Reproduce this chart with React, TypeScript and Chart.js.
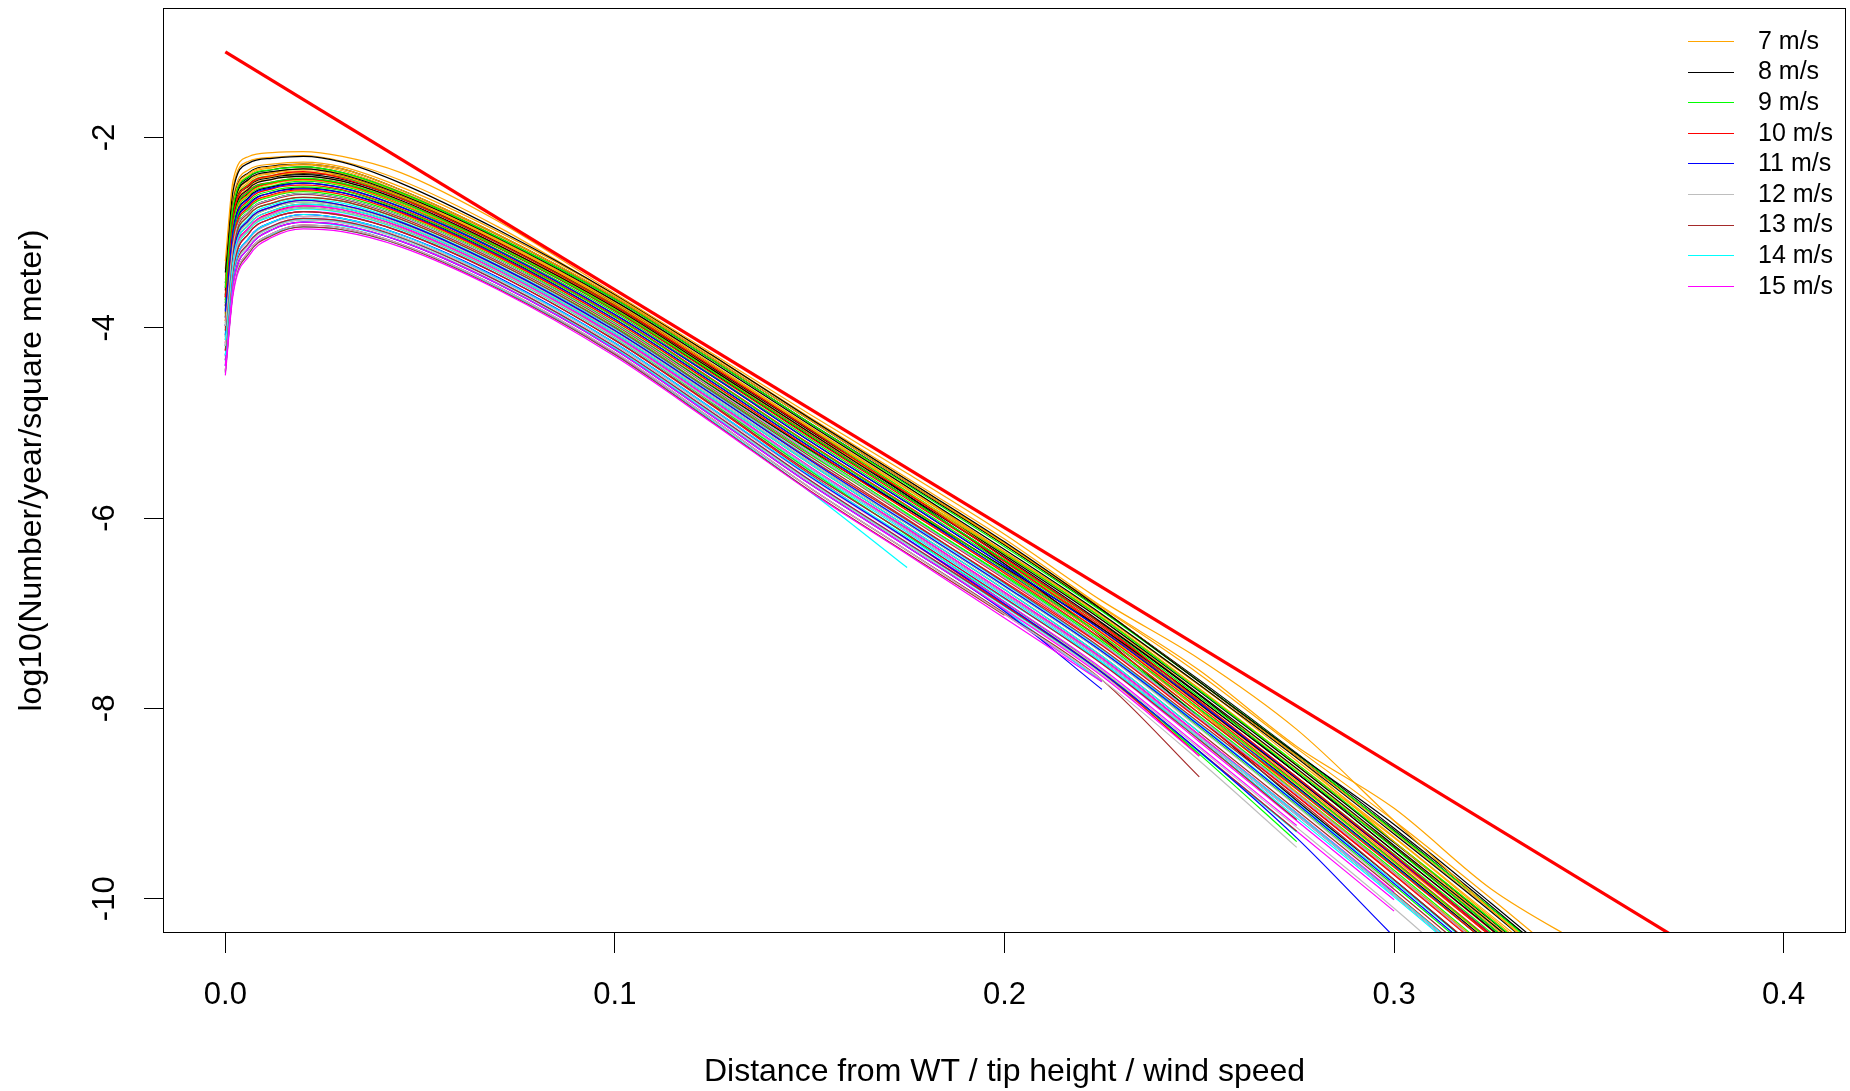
import { useEffect, useRef } from "react";
import { Chart, registerables } from "chart.js";

Chart.register(...registerables);

// Distance from WT / tip height / wind speed (shared sampling positions)
const DIST = [0, 0.002, 0.006, 0.012, 0.02, 0.03, 0.045, 0.07, 0.1, 0.125, 0.15, 0.175, 0.2, 0.225, 0.25, 0.275, 0.3, 0.325, 0.35];

// log10(Number/year/square meter) curves, one list of curves per wind speed
const WS7 = [
  [-3.30, -2.45, -2.20, -2.16, -2.15, -2.20, -2.37, -2.88, -3.64, -4.27, -4.91, -5.53, -6.17, -6.87, -7.48, -8.22, -9.18, -10.12, -11.0],
  [-3.38, -2.52, -2.25, -2.21, -2.19, -2.25, -2.45, -2.94, -3.66, -4.29, -4.94, -5.58, -6.22, -6.93, -7.60, -8.40, -9.05, -9.90, -10.52],
  [-3.55, -2.70, -2.38, -2.31, -2.28, -2.33, -2.55, -3.02, -3.68, -4.32, -4.97, -5.62, -6.27, -6.96, -7.72, -8.50, -9.30, -10.12, -10.95],
  [-3.68, -2.83, -2.50, -2.41, -2.37, -2.41, -2.62, -3.09, -3.75, -4.40, -5.05, -5.70, -6.35, -7.02, -7.76, -8.52, -9.40, -10.25, -11.10],
  [-3.78, -2.93, -2.60, -2.49, -2.45, -2.50, -2.70, -3.15, -3.80, -4.45, -5.10, -5.73, -6.36, -7.02, -7.75, -8.55, -9.35, -10.18, -11.0],
  [-3.93, -3.08, -2.73, -2.61, -2.56, -2.60, -2.80, -3.26, -3.93, -4.59, -5.27, -5.92, -6.57, -7.24, -8.02, -8.80, -9.62, -10.46, -11.3],
  [-3.60, -2.76, -2.45, -2.37, -2.33, -2.38, -2.59, -3.07, -3.73, -4.38, -5.04, -5.72, -6.42, -7.18, -8.02, -8.88, -9.72, -10.56, -11.4],
  [-3.50, -2.64, -2.34, -2.28, -2.26, -2.31, -2.52, -2.99, -3.66, -4.30, -4.95, -5.60, -6.26, -6.94, -7.64, -8.42, -9.18, -10.0, -10.85],
  [-3.64, -2.79, -2.47, -2.38, -2.35, -2.40, -2.61, -3.08, -3.74, -4.39, -5.04, -5.69, -6.36, -7.05, -7.79, -8.58, -9.36, -10.2, -11.05],
  [-3.72, -2.86, -2.53, -2.44, -2.41, -2.46, -2.67, -3.13, -3.78, -4.43, -5.10, -5.74, -6.38, -7.04, -7.80, -8.60, -9.40, -10.22, -11.1],
  [-3.85, -3.00, -2.66, -2.54, -2.50, -2.55, -2.75, -3.21, -3.88, -4.54, -5.22, -5.87, -6.53, -7.20, -7.96, -8.76, -9.58, -10.4, -11.3],
  [-3.56, -2.71, -2.40, -2.32, -2.29, -2.35, -2.57, -3.03, -3.69, -4.34, -5.00, -5.67, -6.36, -7.07, -7.85, -8.64, -9.45, -10.28, -11.1],
];
const WS8 = [
  [-3.42, -2.56, -2.27, -2.22, -2.20, -2.26, -2.48, -2.97, -3.65, -4.29, -4.95, -5.60, -6.25, -6.96, -7.72, -8.48, -9.22, -10.05, -10.9],
  [-3.61, -2.76, -2.44, -2.36, -2.33, -2.39, -2.60, -3.06, -3.72, -4.36, -5.02, -5.67, -6.33, -7.01, -7.75, -8.52, -9.32, -10.14, -11.0],
  [-3.71, -2.86, -2.54, -2.44, -2.41, -2.46, -2.66, -3.13, -3.79, -4.44, -5.10, -5.76, -6.41, -7.10, -7.85, -8.63, -9.44, -10.26, -11.12],
  [-3.82, -2.97, -2.63, -2.52, -2.48, -2.53, -2.73, -3.19, -3.86, -4.51, -5.19, -5.84, -6.50, -7.18, -7.95, -8.74, -9.55, -10.38, -11.25],
  [-3.98, -3.13, -2.78, -2.65, -2.59, -2.64, -2.83, -3.29, -3.96, -4.62, -5.28, -5.90, -6.52, -7.16, -7.90, -8.68, -9.50, -10.32, -11.2],
  [-3.66, -2.80, -2.50, -2.41, -2.38, -2.41, -2.62, -3.10, -3.75, -4.40, -5.07, -5.76, -6.48, -7.25, -8.10, -8.97, -9.80, -10.66, -11.5],
  [-3.53, -2.68, -2.37, -2.30, -2.28, -2.33, -2.55, -3.02, -3.68, -4.32, -4.97, -5.62, -6.28, -6.97, -7.70, -8.47, -9.26, -10.08, -10.95],
  [-3.68, -2.82, -2.51, -2.42, -2.39, -2.44, -2.64, -3.11, -3.77, -4.42, -5.08, -5.74, -6.39, -7.07, -7.82, -8.60, -9.41, -10.23, -11.1],
  [-3.77, -2.92, -2.58, -2.48, -2.44, -2.49, -2.70, -3.16, -3.82, -4.47, -5.14, -5.78, -6.44, -7.11, -7.86, -8.68, -9.46, -10.3, -11.15],
  [-3.89, -3.04, -2.70, -2.58, -2.53, -2.58, -2.77, -3.23, -3.91, -4.57, -5.25, -5.90, -6.56, -7.24, -8.01, -8.82, -9.64, -10.48, -11.35],
  [-3.58, -2.73, -2.42, -2.34, -2.31, -2.37, -2.58, -3.05, -3.70, -4.34, -5.00, -5.64, -6.28, -6.96, -7.72, -8.50, -9.28, -10.1, -10.9],
];
const WS9 = [
  [-3.58, -2.73, -2.41, -2.34, -2.31, -2.37, -2.58, -3.05, -3.70, -4.34, -5.00, -5.65, -6.30, -6.98, -7.72, -8.48, -9.29, -10.10, -10.96],
  [-3.74, -2.89, -2.57, -2.47, -2.43, -2.48, -2.68, -3.15, -3.81, -4.46, -5.13, -5.78, -6.44, -7.12, -7.88, -8.66, -9.47, -10.30, -11.16],
  [-3.87, -3.02, -2.68, -2.56, -2.52, -2.56, -2.76, -3.22, -3.89, -4.55, -5.23, -5.88, -6.54, -7.23, -8.00, -8.79, -9.61, -10.45, -11.3],
  [-4.03, -3.18, -2.82, -2.69, -2.63, -2.67, -2.86, -3.32, -3.99, -4.66, -5.33, -5.96, -6.60, -7.28, -8.05, -8.84, -9.66, -10.50, -11.36],
  [-4.19, -3.34, -2.97, -2.81, -2.74, -2.78, -2.96, -3.41, -4.10, -4.79, -5.50, -6.18, -6.88, -7.60, -8.48, -9.40, null, null, null],
  [-3.66, -2.81, -2.49, -2.40, -2.37, -2.42, -2.63, -3.10, -3.76, -4.40, -5.06, -5.72, -6.37, -7.05, -7.81, -8.58, -9.40, -10.22, -11.07],
  [-3.80, -2.95, -2.61, -2.51, -2.46, -2.51, -2.71, -3.18, -3.84, -4.50, -5.17, -5.82, -6.48, -7.16, -7.93, -8.72, -9.53, -10.36, -11.23],
  [-3.95, -3.10, -2.75, -2.62, -2.57, -2.62, -2.81, -3.27, -3.95, -4.61, -5.29, -5.95, -6.61, -7.30, -8.08, -8.88, -9.70, -10.55, -11.42],
  [-4.10, -3.25, -2.89, -2.74, -2.68, -2.72, -2.90, -3.36, -4.04, -4.72, -5.41, -6.06, -6.72, -7.41, -8.20, -9.02, -9.86, -10.72, -11.6],
];
const WS10 = [
  [-3.68, -2.83, -2.50, -2.40, -2.36, -2.43, -2.64, -3.11, -3.77, -4.41, -5.07, -5.74, -6.42, -7.12, -7.92, -8.72, -9.54, -10.38, -11.24],
  [-3.93, -3.08, -2.73, -2.60, -2.55, -2.60, -2.79, -3.25, -3.93, -4.59, -5.27, -5.92, -6.58, -7.27, -8.05, -8.85, -9.67, -10.50, -11.38],
  [-4.08, -3.23, -2.87, -2.73, -2.66, -2.71, -2.89, -3.35, -4.03, -4.70, -5.38, -6.02, -6.67, -7.34, -8.12, -8.92, -9.74, -10.58, -11.45],
  [-4.24, -3.39, -3.01, -2.85, -2.78, -2.82, -2.99, -3.44, -4.13, -4.82, -5.54, -6.22, -6.91, -7.62, -8.50, null, null, null, null],
  [-3.77, -2.92, -2.59, -2.48, -2.44, -2.49, -2.70, -3.16, -3.82, -4.48, -5.15, -5.80, -6.46, -7.16, -7.94, -8.74, -9.56, -10.40, -11.26],
  [-3.85, -3.00, -2.66, -2.54, -2.50, -2.55, -2.75, -3.21, -3.88, -4.54, -5.22, -5.87, -6.53, -7.21, -7.98, -8.78, -9.60, -10.44, -11.3],
  [-4.00, -3.15, -2.79, -2.66, -2.60, -2.65, -2.84, -3.30, -3.97, -4.64, -5.32, -5.98, -6.64, -7.33, -8.11, -8.92, -9.75, -10.6, -11.47],
  [-4.16, -3.31, -2.95, -2.79, -2.72, -2.76, -2.94, -3.40, -4.08, -4.76, -5.46, -6.11, -6.78, -7.47, -8.28, -9.10, -9.94, -10.8, -11.7],
  [-3.74, -2.89, -2.56, -2.47, -2.43, -2.48, -2.68, -3.14, -3.80, -4.46, -5.12, -5.78, -6.45, -7.14, -7.90, -8.68, -9.50, -10.33, -11.2],
];
const WS11 = [
  [-3.83, -2.98, -2.64, -2.53, -2.48, -2.53, -2.73, -3.19, -3.86, -4.51, -5.19, -5.84, -6.50, -7.18, -7.94, -8.73, -9.55, -10.38, -11.25],
  [-4.08, -3.23, -2.87, -2.73, -2.66, -2.71, -2.89, -3.35, -4.03, -4.70, -5.39, -6.05, -6.71, -7.40, -8.18, -9.00, -9.84, -10.70, -11.55],
  [-4.29, -3.44, -3.06, -2.89, -2.81, -2.85, -3.02, -3.47, -4.16, -4.85, -5.56, -6.22, -6.90, -7.62, -8.45, -9.36, -10.40, -11.40, null],
  [-4.40, -3.55, -3.16, -2.97, -2.89, -2.92, -3.09, -3.54, -4.23, -4.93, -5.64, -6.30, -6.98, -7.80, null, null, null, null, null],
  [-3.98, -3.13, -2.78, -2.65, -2.59, -2.64, -2.83, -3.29, -3.96, -4.63, -5.31, -5.97, -6.63, -7.32, -8.10, -8.90, -9.73, -10.58, -11.45],
  [-4.19, -3.34, -2.97, -2.81, -2.74, -2.78, -2.96, -3.41, -4.10, -4.78, -5.47, -6.13, -6.80, -7.49, -8.30, -9.12, -9.96, -10.83, -11.71],
  [-3.90, -3.05, -2.71, -2.58, -2.54, -2.58, -2.78, -3.24, -3.91, -4.57, -5.25, -5.90, -6.56, -7.24, -8.02, -8.83, -9.65, -10.5, -11.36],
];
const WS12 = [
  [-3.98, -3.13, -2.78, -2.65, -2.59, -2.64, -2.83, -3.29, -3.96, -4.63, -5.31, -5.97, -6.63, -7.32, -8.10, -8.90, -9.73, -10.58, -11.45],
  [-4.19, -3.34, -2.97, -2.81, -2.74, -2.78, -2.96, -3.41, -4.10, -4.78, -5.47, -6.13, -6.80, -7.49, -8.30, -9.12, -9.96, -10.83, -11.71],
  [-4.45, -3.60, -3.20, -3.01, -2.92, -2.95, -3.12, -3.57, -4.26, -4.96, -5.68, -6.34, -7.01, -7.70, -8.55, -9.46, null, null, null],
  [-4.31, -3.46, -3.08, -2.90, -2.83, -2.86, -3.04, -3.49, -4.18, -4.87, -5.57, -6.23, -6.90, -7.60, -8.42, -9.25, -10.10, -11.0, -11.9],
  [-4.10, -3.25, -2.89, -2.74, -2.68, -2.72, -2.90, -3.36, -4.04, -4.72, -5.41, -6.06, -6.72, -7.41, -8.21, -9.03, -9.88, null, null],
  [-4.37, -3.52, -3.13, -2.95, -2.87, -2.90, -3.07, -3.53, -4.22, -4.91, -5.62, -6.28, -6.95, -7.64, -8.48, null, null, null, null],
];
const WS13 = [
  [-4.03, -3.18, -2.82, -2.69, -2.63, -2.67, -2.86, -3.32, -4.00, -4.67, -5.35, -6.01, -6.68, -7.37, -8.15, -8.95, -9.80, -10.65, -11.5],
  [-4.24, -3.39, -3.01, -2.85, -2.78, -2.82, -2.99, -3.44, -4.13, -4.81, -5.52, -6.17, -6.84, -7.53, -8.33, -9.17, null, null, null],
  [-4.47, -3.62, -3.22, -3.03, -2.94, -2.97, -3.13, -3.59, -4.28, -4.99, -5.71, -6.37, -7.02, null, null, null, null, null, null],
  [-4.45, -3.60, -3.20, -3.01, -2.92, -2.95, -3.12, -3.57, -4.26, -4.96, -5.68, -6.34, -7.00, -7.70, -8.72, null, null, null, null],
  [-4.13, -3.28, -2.92, -2.77, -2.70, -2.74, -2.92, -3.38, -4.06, -4.74, -5.43, -6.09, -6.75, -7.45, -8.25, -9.07, -9.90, -10.76, -11.65],
  [-4.34, -3.49, -3.11, -2.93, -2.85, -2.88, -3.05, -3.51, -4.20, -4.89, -5.60, -6.26, -6.92, -7.62, -8.45, -9.29, null, null, null],
];
const WS14 = [
  [-4.13, -3.28, -2.92, -2.77, -2.70, -2.74, -2.92, -3.38, -4.06, -4.74, -5.43, -6.09, -6.75, -7.45, -8.25, null, null, null, null],
  [-4.29, -3.44, -3.06, -2.89, -2.81, -2.85, -3.02, -3.48, -4.16, -4.85, -5.55, -6.20, -6.85, -7.52, -8.30, -9.10, -9.95, -10.80, -11.7],
  [-4.47, -3.62, -3.22, -3.02, -2.94, -2.97, -3.13, -3.58, -4.28, -4.98, -5.72, -6.52, null, null, null, null, null, null, null],
  [-4.40, -3.55, -3.16, -2.97, -2.89, -2.93, -3.09, -3.54, -4.22, -4.92, -5.64, -6.30, -6.97, -7.72, null, null, null, null, null],
  [-4.21, -3.36, -2.98, -2.83, -2.75, -2.79, -2.97, -3.42, -4.11, -4.79, -5.49, -6.15, -6.82, -7.51, -8.32, -9.15, -9.98, -10.85, -11.75],
  [-4.35, -3.50, -3.12, -2.94, -2.86, -2.89, -3.06, -3.51, -4.21, -4.90, -5.61, -6.27, -6.93, -7.63, -8.46, -9.30, null, null, null],
  [-4.06, -3.21, -2.85, -2.71, -2.65, -2.69, -2.88, -3.34, -4.01, -4.68, -5.37, -6.03, -6.69, -7.38, -8.17, -8.99, -9.82, -10.67, -11.55],
];
const WS15 = [
  [-4.50, -3.65, -3.25, -3.05, -2.96, -2.99, -3.15, -3.60, -4.30, -5.00, -5.72, -6.38, -7.05, -7.72, null, null, null, null, null],
  [-4.40, -3.55, -3.16, -2.97, -2.89, -2.92, -3.09, -3.54, -4.23, -4.93, -5.64, -6.30, -6.96, -7.66, -8.50, null, null, null, null],
  [-4.30, -3.45, -3.06, -2.89, -2.81, -2.85, -3.02, -3.48, -4.16, -4.85, -5.56, -6.22, -6.88, -7.58, -8.40, -9.23, null, null, null],
  [-4.17, -3.32, -2.95, -2.80, -2.72, -2.76, -2.94, -3.40, -4.08, -4.76, -5.46, -6.11, -6.78, -7.47, -8.28, -9.10, -9.93, null, null],
  [-4.45, -3.60, -3.20, -3.01, -2.92, -2.95, -3.12, -3.57, -4.27, -4.96, -5.68, -6.34, -7.01, -7.71, null, null, null, null, null],
  [-4.34, -3.49, -3.11, -2.93, -2.85, -2.88, -3.05, -3.51, -4.20, -4.89, -5.60, -6.26, -6.92, -7.62, -8.45, -9.29, -10.13, null, null],
  [-4.24, -3.39, -3.01, -2.85, -2.78, -2.81, -2.99, -3.44, -4.13, -4.81, -5.52, -6.17, -6.84, -7.53, -8.35, -9.18, -10.01, null, null],
];

const SPEED_CURVES = [WS7, WS8, WS9, WS10, WS11, WS12, WS13, WS14, WS15];
const SPEED_LABELS = ["7 m/s", "8 m/s", "9 m/s", "10 m/s", "11 m/s", "12 m/s", "13 m/s", "14 m/s", "15 m/s"];
const SPEED_COLORS = ["#FFA500", "#000000", "#00FF00", "#FF0000", "#0000FF", "#BEBEBE", "#A52A2A", "#00FFFF", "#FF00FF"];

// Straight reference line (red)
const REF_X = [0, 0.4];
const REF_Y = [-1.1, -11.1];

const X_TICKS = [0, 0.1, 0.2, 0.3, 0.4];
const Y_TICKS = [-10, -8, -6, -4, -2];
const X_LIMITS = [-0.016, 0.416];
const Y_LIMITS = [-10.36, -0.64];

const FONT = '"Liberation Sans", Arial, Helvetica, sans-serif';

const rFrame = {
  id: "rFrame",
  afterDatasetsDraw(chart: any) {
    const { ctx, chartArea: a } = chart;
    ctx.save();
    ctx.strokeStyle = "#000";
    ctx.lineWidth = 1;
    const l = Math.round(a.left) + 0.5;
    const t = Math.round(a.top) + 0.5;
    const r = Math.round(a.right) - 0.5;
    const b = Math.round(a.bottom) - 0.5;
    ctx.strokeRect(l, t, r - l, b - t);
    // legend (no box)
    ctx.font = `25px ${FONT}`;
    ctx.textBaseline = "middle";
    ctx.textAlign = "left";
    SPEED_LABELS.forEach((lab, i) => {
      const y = 41 + i * 30.6;
      ctx.strokeStyle = SPEED_COLORS[i];
      ctx.lineWidth = 1;
      ctx.beginPath();
      ctx.moveTo(1688, Math.round(y) + 0.5);
      ctx.lineTo(1734, Math.round(y) + 0.5);
      ctx.stroke();
      ctx.fillStyle = "#000";
      ctx.fillText(lab, 1758, y + 1);
    });
    ctx.restore();
  },
};

export default function App() {
  const ref = useRef<HTMLCanvasElement | null>(null);
  useEffect(() => {
    if (!ref.current) return;
    const datasets: any[] = [];
    datasets.push({
      label: "reference",
      data: REF_X.map((x, i) => ({ x, y: REF_Y[i] })),
      borderColor: "#FF0000",
      borderWidth: 3.2,
      pointRadius: 0,
      tension: 0,
    });
    const maxN = Math.max(...SPEED_CURVES.map((c) => c.length));
    for (let k = 0; k < maxN; k++) {
      SPEED_CURVES.forEach((curves, s) => {
        const curve = curves[k];
        if (!curve) return;
        datasets.push({
          label: SPEED_LABELS[s],
          data: DIST.map((x, i) => ({ x, y: curve[i] })).filter((p) => p.y !== null),
          borderColor: SPEED_COLORS[s],
          borderWidth: 1.2,
          pointRadius: 0,
          cubicInterpolationMode: "monotone",
        });
      });
    }
    const chart = new Chart(ref.current, {
      type: "line",
      data: { datasets },
      plugins: [rFrame],
      options: {
        animation: false,
        responsive: false,
        devicePixelRatio: 1,
        layout: { padding: { top: 8, right: 4, left: 0, bottom: 0 } },
        plugins: { legend: { display: false }, tooltip: { enabled: false } },
        scales: {
          x: {
            type: "linear",
            min: X_LIMITS[0],
            max: X_LIMITS[1],
            afterBuildTicks: (scale: any) => {
              scale.ticks = X_TICKS.map((v) => ({ value: v }));
            },
            afterFit: (scale: any) => {
              scale.height = 158;
              scale.paddingLeft = 0;
              scale.paddingRight = 0;
            },
            border: { display: false },
            grid: { display: true, drawOnChartArea: false, drawTicks: true, tickLength: 20, color: "#000", lineWidth: 1 },
            ticks: {
              color: "#000",
              font: { family: FONT, size: 31 },
              padding: 24,
              maxRotation: 0,
              minRotation: 0,
              callback: (v: any) => Number(v).toFixed(1),
            },
            title: {
              display: true,
              text: "Distance from WT / tip height / wind speed",
              color: "#000",
              font: { family: FONT, size: 32 },
              padding: { top: 0, bottom: 0 },
            },
          },
          y: {
            type: "linear",
            min: Y_LIMITS[0],
            max: Y_LIMITS[1],
            afterBuildTicks: (scale: any) => {
              scale.ticks = Y_TICKS.map((v) => ({ value: v }));
            },
            afterFit: (scale: any) => {
              scale.width = 163;
              scale.paddingTop = 0;
              scale.paddingBottom = 0;
            },
            border: { display: false },
            grid: { display: true, drawOnChartArea: false, drawTicks: true, tickLength: 19, color: "#000", lineWidth: 1 },
            ticks: {
              color: "#000",
              font: { family: FONT, size: 31 },
              padding: 16,
              minRotation: 90,
              maxRotation: 90,
              crossAlign: "center",
              callback: (v: any) => String(v),
            },
            title: {
              display: true,
              text: "log10(Number/year/square meter)",
              color: "#000",
              font: { family: FONT, size: 32 },
              padding: { top: 13, bottom: 0 },
            },
          },
        },
      } as any,
    });
    return () => chart.destroy();
  }, []);
  return (
    <div style={{ position: "absolute", left: 0, top: 0, width: 1850, height: 1091, background: "#fff" }}>
      <canvas ref={ref} width={1850} height={1091} style={{ width: 1850, height: 1091, display: "block" }} />
    </div>
  );
}
